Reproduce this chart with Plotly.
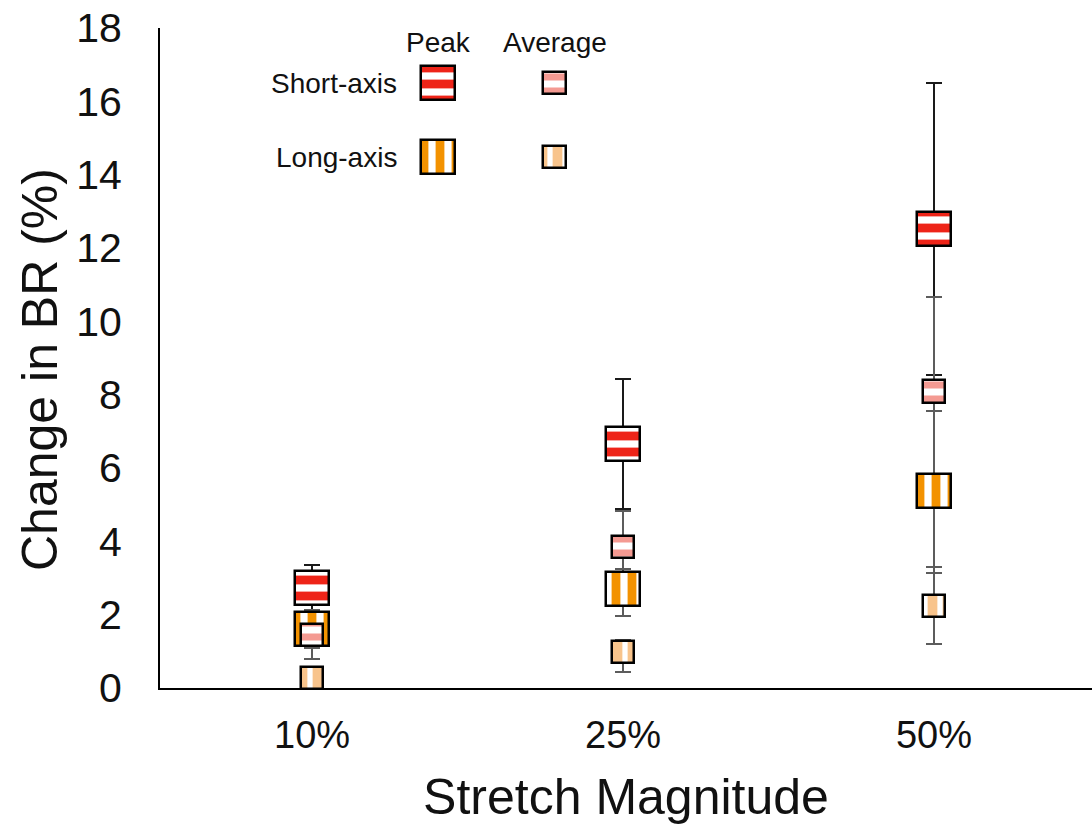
import plotly.graph_objects as go

# ---------------- data ----------------
categories = ["10%", "25%", "50%"]
cat_pos = [0, 1, 2]

peak_short = [2.72, 6.66, 12.52]
peak_short_err_plus = [0.63, 1.77, 3.97]
peak_short_err_minus = [0.60, 1.77, 3.97]

peak_long = [1.61, 2.71, 5.37]
peak_long_err_plus = [0.40, 0.54, 2.18]
peak_long_err_minus = [0.52, 0.75, 2.22]

avg_short = [1.45, 3.84, 8.09]
avg_short_err_plus = [0.67, 1.00, 2.58]
avg_short_err_minus = [0.67, 0.60, 2.58]

avg_long = [0.27, 0.98, 2.24]
avg_long_err_plus = [0.20, 0.33, 1.05]
avg_long_err_minus = [0.20, 0.54, 1.05]

y_ticks = list(range(0, 20, 2))

# ---------------- style / layout constants ----------------
W, H = 1092, 828
ML, MR, MT, MB = 160, 0, 28, 140
Y_MAX = 18
X_RANGE = [-0.489, 2.508]
FONT = "Liberation Sans, Arial, Helvetica, sans-serif"

RED = "#EE2418"
ORANGE = "#F39200"
PINK = "#F49A92"
LORANGE = "#F8C48C"

PEAK_PX = 34      # peak marker box size (px)
AVG_PX = 22.5     # average marker box size (px)

px_per_y = (H - MT - MB) / Y_MAX
px_per_x = (W - ML - MR) / (X_RANGE[1] - X_RANGE[0])

styles = {
    "peak_short": dict(size=PEAK_PX, shape="-", fg=RED, psize=16, sol=0.55),
    "peak_long": dict(size=PEAK_PX, shape="|", fg=ORANGE, psize=16, sol=0.55),
    "avg_short": dict(size=AVG_PX, shape="-", fg=PINK, psize=14, sol=0.5),
    "avg_long": dict(size=AVG_PX, shape="|", fg=LORANGE, psize=15, sol=0.65),
}

fig = go.Figure()

# ---------- error bars (transparent bars whose tops sit at the values) ----------
def add_err(vals, plus, minus, color):
    fig.add_trace(go.Bar(
        x=cat_pos, y=vals, base=0, width=0.02,
        marker=dict(color="rgba(0,0,0,0)", line=dict(width=0)),
        error_y=dict(type="data", symmetric=False, array=plus, arrayminus=minus,
                     color=color, thickness=2, width=8),
        showlegend=False, hoverinfo="skip"))

add_err(peak_short, peak_short_err_plus, peak_short_err_minus, "#1a1a1a")
add_err(peak_long, peak_long_err_plus, peak_long_err_minus, "#5c5c5c")
add_err(avg_short, avg_short_err_plus, avg_short_err_minus, "#5c5c5c")
add_err(avg_long, avg_long_err_plus, avg_long_err_minus, "#5c5c5c")


def box_marker(st):
    return dict(color="white", line=dict(color="black", width=2.5),
                pattern=dict(shape=st["shape"], fgcolor=st["fg"], bgcolor="white",
                             fgopacity=1, fillmode="replace",
                             size=st["psize"], solidity=st["sol"]))


# ---------- square patterned boxes centred on the values ----------
def add_box(vals, st, name):
    h = st["size"] / px_per_y
    w = st["size"] / px_per_x
    fig.add_trace(go.Bar(
        x=cat_pos, y=[h] * len(vals), base=[v - h / 2 for v in vals], width=w,
        marker=box_marker(st),
        name=name, showlegend=False, hovertext=[f"{v:.2f}" for v in vals],
        hoverinfo="text"))

add_box(peak_short, styles["peak_short"], "Short-axis Peak")
add_box(peak_long, styles["peak_long"], "Long-axis Peak")
add_box(avg_short, styles["avg_short"], "Short-axis Average")
add_box(avg_long, styles["avg_long"], "Long-axis Average")

# ---------- custom 2x2 legend on a pixel-coordinate overlay axis ----------
LEG_COL_X = {"Peak": 438, "Average": 554.5}
LEG_ROW_Y = {"Short-axis": 83, "Long-axis": 157}
LEG_HEADER_Y = 42
LEG_LABEL_RIGHT = 399
LEG_FONT = 28
legend_items = [
    ("Short-axis", "Peak", "peak_short"),
    ("Short-axis", "Average", "avg_short"),
    ("Long-axis", "Peak", "peak_long"),
    ("Long-axis", "Average", "avg_long"),
]
for row, col, key in legend_items:
    st = styles[key]
    s = st["size"]
    fig.add_trace(go.Bar(
        x=[LEG_COL_X[col]], y=[s], base=[LEG_ROW_Y[row] - s / 2], width=s,
        xaxis="x2", yaxis="y2", marker=box_marker(st),
        showlegend=False, hoverinfo="skip"))

for col, x in LEG_COL_X.items():
    fig.add_annotation(x=x, y=LEG_HEADER_Y, xref="x2", yref="y2", text=col,
                       showarrow=False, xanchor="center", yanchor="middle",
                       font=dict(size=LEG_FONT, color="#111", family=FONT))
for row, y in LEG_ROW_Y.items():
    fig.add_annotation(x=LEG_LABEL_RIGHT, y=y, xref="x2", yref="y2", text=row,
                       showarrow=False, xanchor="right", yanchor="middle",
                       font=dict(size=LEG_FONT, color="#111", family=FONT))

# y-axis title placed as a rotated annotation
Y_TITLE_X_PX, Y_TITLE_Y_PX = 40, 370
fig.add_annotation(
    x=(Y_TITLE_X_PX - ML) / (W - ML - MR), y=1 - (Y_TITLE_Y_PX - MT) / (H - MT - MB),
    xref="paper", yref="paper", text="Change in BR (%)", textangle=-90,
    showarrow=False, xanchor="center", yanchor="middle",
    font=dict(size=50, family=FONT, color="#111"))

fig.update_layout(
    width=W, height=H,
    margin=dict(l=ML, r=MR, t=MT, b=MB, pad=0),
    paper_bgcolor="white", plot_bgcolor="white",
    barmode="overlay", bargap=0,
    font=dict(family=FONT, color="#111"),
    xaxis=dict(range=X_RANGE, tickvals=cat_pos, ticktext=categories,
               showline=True, linecolor="black", linewidth=2, showgrid=False,
               zeroline=False, ticks="", tickfont=dict(size=38, family=FONT, color="#111"),
               ticklabelstandoff=12,
               title=dict(text="Stretch Magnitude", font=dict(size=50, family=FONT, color="#111"),
                          standoff=24)),
    yaxis=dict(range=[0, Y_MAX], tickvals=y_ticks, showline=True, linecolor="black",
               linewidth=2, showgrid=False, zeroline=False, ticks="",
               tickfont=dict(size=41, family=FONT, color="#111"), ticklabelstandoff=28),
    xaxis2=dict(range=[ML, W - MR], overlaying="x", anchor="y2", visible=False,
                fixedrange=True),
    yaxis2=dict(range=[H - MB, MT], overlaying="y", anchor="x2", visible=False,
                fixedrange=True),
)

fig.write_html("out.html")
